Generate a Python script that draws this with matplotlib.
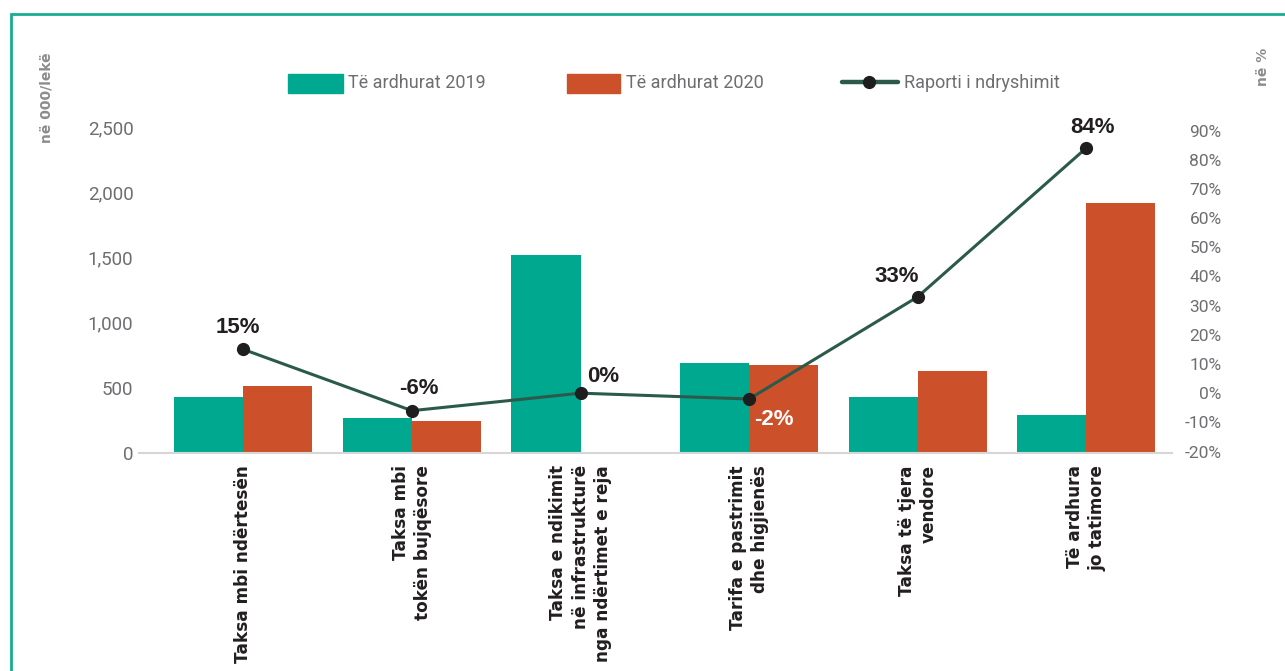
import matplotlib
matplotlib.use("Agg")
import matplotlib.pyplot as plt
from matplotlib.patches import Rectangle
from matplotlib.lines import Line2D
import numpy as np

# data
categories = [
    "Taksa mbi ndërtesën",
    "Taksa mbi\ntokën bujqësore",
    "Taksa e ndikimit\nnë infrastrukturë\nnga ndërtimet e reja",
    "Tarifa e pastrimit\ndhe higjienës",
    "Taksa të tjera\nvendore",
    "Të ardhura\njo tatimore",
]
revenue_2019 = [425, 269, 1517, 691, 425, 289]
revenue_2020 = [514, 246, 0, 671, 625, 1919]
change_pct = [15, -6, 0, -2, 33, 84]
change_labels = ["15%", "-6%", "0%", "-2%", "33%", "84%"]
left_ticks = [0, 500, 1000, 1500, 2000, 2500]
right_ticks = [-20, -10, 0, 10, 20, 30, 40, 50, 60, 70, 80, 90]

TEAL = "#00a88f"
ORANGE = "#cc512a"
LINE = "#2b5a4b"
DOT = "#1e1e1e"
GRAY = "#6d6e71"
DARK = "#231f20"
NARROW = ["Roboto", "DejaVu Sans"]

W, H = 1285, 671
fig = plt.figure(figsize=(W / 100, H / 100), dpi=100)
ax = fig.add_axes([139 / W, 1 - 452.7 / H, (1171.7 - 139) / W, (452.7 - 120) / H])

x = np.arange(len(categories))
w = 0.41
ax.bar(x - w / 2, revenue_2019, w, color=TEAL)
ax.bar(x + w / 2, revenue_2020, w, color=ORANGE)
ax.set_xlim(-0.619, 5.507)
ax.set_ylim(0, 2553)
for s in ["top", "left", "right"]:
    ax.spines[s].set_visible(False)
ax.spines["bottom"].set_color("#d6d6d6")
ax.spines["bottom"].set_linewidth(1.5)

ax.set_yticks(left_ticks)
ax.set_yticklabels([f"{t:,}" for t in left_ticks], family=NARROW, fontsize=13.5, color=GRAY)
ax.tick_params(axis="y", length=0, pad=4)
ax.set_xticks(x)
ax.set_xticklabels(categories, rotation=90, ha="center", va="top", multialignment="right",
                   linespacing=1.3, fontsize=12.2, fontweight="bold", color=DARK)
ax.tick_params(axis="x", length=0, pad=9)

ax2 = ax.twinx()
ax2.set_ylim(-20.4, 93.6)
ax2.plot(x, change_pct, color=LINE, lw=2.2, marker="o", ms=8.5, mfc=DOT, mec=DOT, zorder=3)
for s in ax2.spines.values():
    s.set_visible(False)
ax2.set_yticks(right_ticks)
ax2.set_yticklabels([f"{t}%" for t in right_ticks], family=NARROW, fontsize=12.5, color=GRAY)
for lbl in ax2.get_yticklabels():
    lbl.set_ha("right")
ax2.tick_params(axis="y", length=0, pad=36)

# label offsets in points
offsets = [(-4, 16), (5, 16.3), (16, 12), (18, -14.4), (-15, 15), (4.3, 15)]
for i, (v, lab) in enumerate(zip(change_pct, change_labels)):
    ax2.annotate(lab, (x[i], v), xytext=offsets[i], textcoords="offset points",
                 ha="center", va="center", fontsize=16, fontweight="bold",
                 family=["Liberation Sans", "DejaVu Sans"],
                 color="white" if lab == "-2%" else DARK)

# axis titles
fig.text(47 / W, 1 - 98 / H, "në 000/lekë", rotation=90, ha="center", va="center",
         fontsize=10, fontweight="bold", color="#8c8c8c")
fig.text(1263 / W, 1 - 67 / H, "në %", rotation=90, ha="center", va="center",
         fontsize=10, fontweight="bold", color="#8c8c8c")

# legend drawn by hand to match the placement
ly = 1 - 83.5 / H
fig.add_artist(Rectangle((288 / W, ly - 9 / H), 55 / W, 18 / H, color=TEAL, transform=fig.transFigure))
fig.text(348 / W, ly, "Të ardhurat 2019", ha="left", va="center", family=NARROW, fontsize=13, color=GRAY)
fig.add_artist(Rectangle((567 / W, ly - 9 / H), 53 / W, 18 / H, color=ORANGE, transform=fig.transFigure))
fig.text(626 / W, ly, "Të ardhurat 2020", ha="left", va="center", family=NARROW, fontsize=13, color=GRAY)
fig.add_artist(Line2D([842 / W, 898 / W], [1 - 81.7 / H] * 2, color=LINE, lw=3.2,
                      solid_capstyle="round", transform=fig.transFigure))
fig.add_artist(Line2D([869 / W], [1 - 81.7 / H], marker="o", ms=8.5, mfc=DOT, mec=DOT,
                      transform=fig.transFigure))
fig.text(904 / W, ly, "Raporti i ndryshimit", ha="left", va="center", family=NARROW, fontsize=13, color=GRAY)

# teal frame around the figure
fig.add_artist(Rectangle((11 / W, -0.05), 1.1, 1 - 13.5 / H + 0.05, fill=False,
                         edgecolor="#1aab94", lw=2, transform=fig.transFigure))

fig.savefig("out.png", dpi=100)
